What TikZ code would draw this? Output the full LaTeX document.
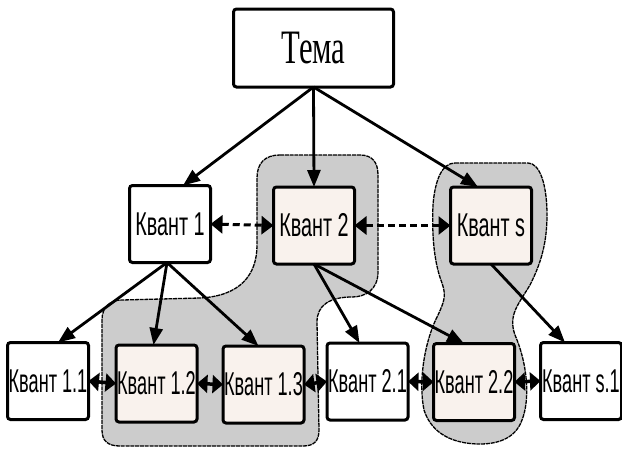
\documentclass[tikz,border=0pt]{standalone}
\usepackage{fontspec}
\usetikzlibrary{arrows.meta}
\newfontfamily\kvfont[FakeStretch=0.6]{Liberation Sans}
\newfontfamily\kvfontnarrow[FakeStretch=0.55]{Liberation Sans}
\newfontfamily\temafont[FakeStretch=0.64]{Liberation Serif}
\definecolor{blobgray}{RGB}{204,204,204}
\definecolor{cream}{RGB}{249,242,237}
\tikzset{
  box/.style={draw=black, line width=3pt, rounded corners=3pt, fill=white,
    minimum width=81pt, minimum height=77pt, inner sep=0pt, outer sep=0pt,
    font=\kvfont\fontsize{33}{33}\selectfont},
  low/.style={font=\kvfontnarrow\fontsize{33}{33}\selectfont},
  picked/.style={box, fill=cream},
  topbox/.style={box, minimum width=160pt, minimum height=78pt,
    font=\temafont\fontsize{48}{48}\selectfont},
  blob/.style={fill=blobgray, draw=black, line width=1.3pt, dash pattern=on 4pt off 0.8pt},
  tree/.style={line width=2.8pt, -{Triangle[length=17pt,width=13pt]}},
  peer/.style={line width=3pt, dash pattern=on 7pt off 4pt,
    {Triangle[length=12pt,width=18pt]}-{Triangle[length=12pt,width=18pt]}},
  link/.style={line width=3.5pt,
    {Triangle[length=10.5pt,width=18pt]}-{Triangle[length=10.5pt,width=18pt]}},
}
\begin{document}
\begin{tikzpicture}[x=1pt,y=-1pt]
\useasboundingbox (0,0) rectangle (622,448);

% shaded groups
\path[blob] (280,155) -- (360,155) .. controls (372,155) and (378,162) .. (378,175)
  -- (378,272) .. controls (378,290) and (365,297) .. (352,297)
  .. controls (330,297) and (317,305) .. (317,322) -- (319,430)
  .. controls (319,441) and (314,446) .. (303,446) -- (120,446)
  .. controls (108,446) and (102,441) .. (102,430) -- (102,320)
  .. controls (102,307) and (110,300) .. (122,300) -- (200,298)
  .. controls (240,296) and (257,275) .. (257,245) -- (257,178)
  .. controls (257,163) and (265,155) .. (280,155) -- cycle;
\path[blob] (455,163) -- (528,163) .. controls (540,163) and (547,185) .. (547,215)
  .. controls (547,245) and (540,265) .. (530,285)
  .. controls (518,305) and (508,315) .. (515,335)
  .. controls (528,365) and (530,400) .. (522,420)
  .. controls (515,440) and (495,444) .. (480,444)
  .. controls (455,444) and (432,435) .. (424,410)
  .. controls (418,380) and (425,340) .. (438,315)
  .. controls (445,300) and (446,295) .. (442,283)
  .. controls (433,260) and (432,230) .. (433,205)
  .. controls (435,180) and (442,163) .. (455,163) -- cycle;

% nodes
\node[topbox] (tema) at (313.5,48) {Тема};
\node[box]    (k1)  at (170,224)   {Квант 1};
\node[picked] (k2)  at (314,225.5) {Квант 2};
\node[picked] (ks)  at (491,225.5) {Квант s};
\node[box, low]    (k11) at (48,381)      {Квант 1.1};
\node[picked, low] (k12) at (156.5,383.5) {Квант 1.2};
\node[picked, low] (k13) at (263.5,384.5) {Квант 1.3};
\node[box, low]    (k21) at (367.5,381.5) {Квант 2.1};
\node[picked, low] (k22) at (474,382)     {Квант 2.2};
\node[box, low]    (ks1) at (581,381)     {Квант s.1};

% hierarchy
\draw[tree] (tema.south) -- ([xshift=13pt]k1.north);
\draw[tree] (tema.south) -- (k2.north);
\draw[tree] (tema.south) -- ([xshift=-13pt]ks.north);
\draw[tree] ([xshift=-3pt]k1.south) -- ([xshift=10pt]k11.north);
\draw[tree] ([xshift=-3pt]k1.south) -- ([xshift=-3pt]k12.north);
\draw[tree] ([xshift=-3pt]k1.south) -- ([xshift=-5pt]k13.north);
\draw[tree] (k2.south) -- ([xshift=-8pt]k21.north);
\draw[tree] (k2.south) -- ([xshift=-10pt]k22.north);
\draw[tree] (ks.south) -- ([xshift=-16pt]ks1.north);

% links between neighbours
\draw[peer] (k1.east) -- (k2.west);
\draw[peer] (k2.east) -- (ks.west);
\draw[link] (k11.east) -- (k12.west);
\draw[link] (k12.east) -- (k13.west);
\draw[link] (k13.east) -- (k21.west);
\draw[link] (k21.east) -- (k22.west);
\draw[link] (k22.east) -- (ks1.west);
\end{tikzpicture}
\end{document}
